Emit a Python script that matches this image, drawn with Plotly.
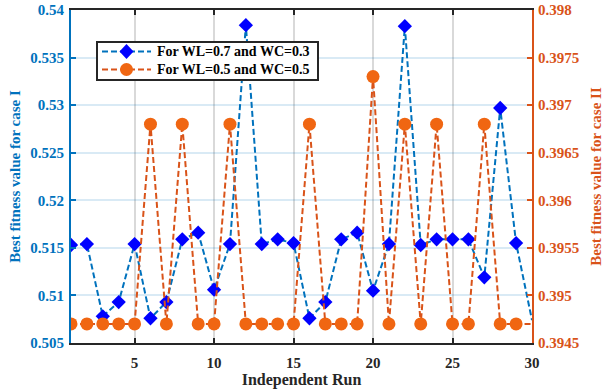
import plotly.graph_objects as go

runs = list(range(1, 31))
case1 = [0.5153, 0.5154, 0.5078, 0.5093, 0.5154, 0.5076, 0.5093, 0.5159, 0.5166, 0.5106,
         0.5154, 0.5384, 0.5154, 0.5159, 0.5155, 0.5076, 0.5093, 0.5159, 0.5166, 0.5105,
         0.5154, 0.5383, 0.5153, 0.5159, 0.5159, 0.5159, 0.5119, 0.5297, 0.5155, 0.5074]
case2 = [0.3947, 0.3947, 0.3947, 0.3947, 0.3947, 0.3968, 0.3947, 0.3968, 0.3947, 0.3947,
         0.3968, 0.3947, 0.3947, 0.3947, 0.3947, 0.3968, 0.3947, 0.3947, 0.3947, 0.3973,
         0.3947, 0.3968, 0.3947, 0.3968, 0.3947, 0.3947, 0.3968, 0.3947, 0.3947, 0.3947]
names = ["For WL=0.7 and WC=0.3", "For WL=0.5 and WC=0.5"]

x_ticks = [5, 10, 15, 20, 25, 30]
x_text = ["5", "10", "15", "20", "25", "30"]
y1_ticks = [0.505, 0.51, 0.515, 0.52, 0.525, 0.53, 0.535, 0.54]
y1_text = ["0.505", "0.51", "0.515", "0.52", "0.525", "0.53", "0.535", "0.54"]
y2_ticks = [0.3945, 0.395, 0.3955, 0.396, 0.3965, 0.397, 0.3975, 0.398]
y2_text = ["0.3945", "0.395", "0.3955", "0.396", "0.3965", "0.397", "0.3975", "0.398"]

BLUE = "#0072BD"
ORANGE = "#D95319"
DARK = "#262626"
MK_BLUE = "#0000FF"
MK_ORANGE = "#F06612"
FONT = "Liberation Serif"

W, H = 604, 391
ML, MR, MT, MB = 71, 72, 10, 48
PW, PH = W - ML - MR, H - MT - MB


def b(s):
    return "<b>" + s + "</b>"


def fx(px):  # page pixel -> paper x
    return (px - ML) / PW


def fy(py):  # page pixel -> paper y
    return (H - MB - py) / PH


n = len(runs)
sz1 = [11] * (n - 1) + [0]
sz2 = [13] * (n - 1) + [0]

fig = go.Figure()
fig.add_trace(go.Scatter(
    x=runs, y=case1, name=names[0], mode="lines+markers", showlegend=False,
    line=dict(color=BLUE, width=2, dash="6px,3px"),
    marker=dict(symbol="diamond", size=sz1, color=MK_BLUE, opacity=1, line=dict(width=0)),
    yaxis="y"))
fig.add_trace(go.Scatter(
    x=runs, y=case2, name=names[1], mode="lines+markers", showlegend=False,
    line=dict(color=ORANGE, width=2, dash="6px,3px"),
    marker=dict(symbol="circle", size=sz2, color=MK_ORANGE, opacity=1, line=dict(width=0)),
    yaxis="y2"))

# ---- hand-built legend (box, samples, labels) in paper coordinates ----
box = (97, 318, 42, 80)           # left, right, top, bottom (px)
rows = [51.5, 69.5]               # row centres (px)
line_x = (102, 151)
mark_x = 126.5
text_x = 155
shapes = [dict(type="rect", xref="paper", yref="paper", layer="above",
               x0=fx(box[0]), x1=fx(box[1]), y0=fy(box[3]), y1=fy(box[2]),
               fillcolor="white", line=dict(color=DARK, width=2))]
annotations = []
colors = [BLUE, ORANGE]
for i, (ry, nm) in enumerate(zip(rows, names)):
    shapes.append(dict(type="line", xref="paper", yref="paper", layer="above",
                       x0=fx(line_x[0]), x1=fx(line_x[1]), y0=fy(ry), y1=fy(ry),
                       line=dict(color=colors[i], width=2, dash="6px,3px")))
    if i == 0:
        hw, hh = 7, 7.5
        path = "M {a},{b} L {c},{d} L {e},{f} L {g},{h} Z".format(
            a=fx(mark_x - hw), b=fy(ry), c=fx(mark_x), d=fy(ry - hh),
            e=fx(mark_x + hw), f=fy(ry), g=fx(mark_x), h=fy(ry + hh))
        shapes.append(dict(type="path", xref="paper", yref="paper", layer="above",
                           path=path, fillcolor=MK_BLUE, line=dict(width=0)))
    else:
        r = 6.5
        shapes.append(dict(type="circle", xref="paper", yref="paper", layer="above",
                           x0=fx(mark_x - r), x1=fx(mark_x + r), y0=fy(ry + r), y1=fy(ry - r),
                           fillcolor=MK_ORANGE, line=dict(width=0)))
    annotations.append(dict(xref="paper", yref="paper", x=fx(text_x), y=fy(ry),
                            xanchor="left", yanchor="middle", showarrow=False,
                            text=b(nm), font=dict(family=FONT, size=14, color="black")))

fig.update_layout(
    width=W, height=H,
    margin=dict(l=ML, r=MR, t=MT, b=MB, autoexpand=False),
    paper_bgcolor="white", plot_bgcolor="white",
    showlegend=False,
    shapes=shapes, annotations=annotations,
    xaxis=dict(range=[1, 30], tickvals=x_ticks, ticktext=[b(t) for t in x_text],
               ticks="inside", ticklen=5, automargin=False, ticklabelstandoff=5,
               tickcolor=DARK, tickwidth=1.5,
               showline=True, linecolor=DARK, linewidth=2, mirror="ticks",
               showgrid=True, gridcolor="rgba(0,0,0,0.15)", gridwidth=1.5,
               zeroline=False,
               tickfont=dict(family=FONT, size=15, color=DARK),
               title=dict(text=b("Independent Run"), standoff=4,
                          font=dict(family=FONT, size=16, color=DARK))),
    yaxis=dict(range=[0.505, 0.54], tickvals=y1_ticks, ticktext=[b(t) for t in y1_text],
               ticks="inside", ticklen=5, tickcolor=BLUE, tickwidth=1.5,
               automargin=False, ticklabelstandoff=2,
               showline=True, linecolor=BLUE, linewidth=2,
               showgrid=True, gridcolor="rgba(0,114,189,0.15)", gridwidth=1.5,
               zeroline=False,
               tickfont=dict(family=FONT, size=15, color=BLUE),
               title=dict(text=b("Best fitness value for case I"), standoff=6,
                          font=dict(family=FONT, size=15, color=BLUE))),
    yaxis2=dict(range=[0.3945, 0.398], tickvals=y2_ticks, ticktext=[b(t) for t in y2_text],
                overlaying="y", side="right", anchor="x", automargin=False,
                ticks="inside", ticklen=5, tickcolor=ORANGE, tickwidth=1.5,
                ticklabelstandoff=1,
                showline=True, linecolor=ORANGE, linewidth=2,
                showgrid=False, zeroline=False,
                tickfont=dict(family=FONT, size=15, color=ORANGE),
                title=dict(text=b("Best fitness value for case II"), standoff=14,
                           font=dict(family=FONT, size=15, color=ORANGE))),
)

fig.write_html("out.html", config={"displayModeBar": False},
               post_script="document.body.style.margin='0';document.body.style.overflow='hidden';")
